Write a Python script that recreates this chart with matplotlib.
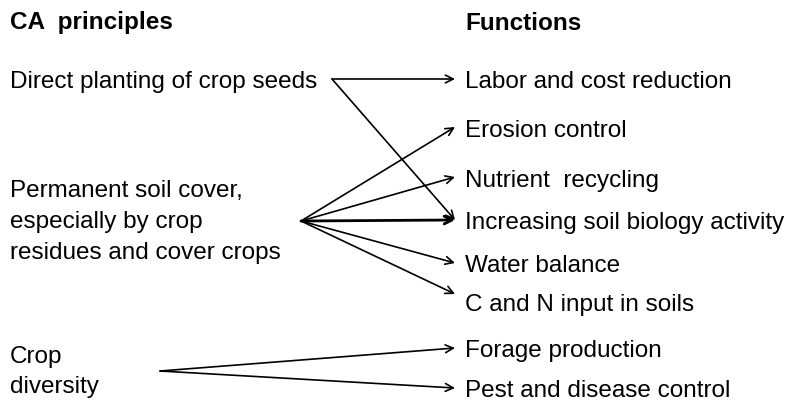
import matplotlib
matplotlib.use("Agg")
import matplotlib.pyplot as plt

# diagram content
principles = ["Direct planting of crop seeds",
              "Permanent soil cover,\nespecially by crop\nresidues and cover crops",
              "Crop\ndiversity"]
functions = ["Labor and cost reduction", "Erosion control", "Nutrient  recycling",
             "Increasing soil biology activity", "Water balance",
             "C and N input in soils", "Forage production", "Pest and disease control"]
# (principle index, function index)
links = [(0, 0), (0, 3),
         (1, 1), (1, 2), (1, 3), (1, 4), (1, 5),
         (2, 6), (2, 7)]

# layout in pixels
principle_text_y = [82, 222, 372]
principle_spacing = [1.3, 1.55, 1.45]
principle_src = [(332, 80), (301, 222), (160, 372)]
function_y = [82, 131, 181, 223, 266, 305, 351, 391]
func_x = 465
tip_x = 455
tip_dy = {0: -2, 1: -3, 2: -3, 3: -2, 4: -2, 5: -10, 6: -2, 7: -2}

plt.rcParams['font.family'] = ['Liberation Sans', 'DejaVu Sans']
fig = plt.figure(figsize=(7.91, 4.02), dpi=100)
ax = fig.add_axes([0, 0, 1, 1])
ax.set_xlim(0, 791)
ax.set_ylim(402, 0)
ax.axis('off')

fs = 17.5
ax.text(10, 23, "CA  principles", fontsize=fs, fontweight='bold', va='center', ha='left')
ax.text(func_x, 23, "Functions", fontsize=fs, fontweight='bold', va='center', ha='left')

for txt, y, ls in zip(principles, principle_text_y, principle_spacing):
    ax.text(10, y, txt, fontsize=fs, va='center', ha='left', linespacing=ls)

for txt, y in zip(functions, function_y):
    ax.text(func_x, y, txt, fontsize=fs, va='center', ha='left')

for p, f in links:
    sx, sy = principle_src[p]
    ty = function_y[f] + tip_dy.get(f, 0)
    lw = 2.0 if (p == 1 and f == 3) else 1.2
    ax.annotate("", xy=(tip_x, ty), xytext=(sx, sy),
                arrowprops=dict(arrowstyle="->", color='black', lw=lw,
                                shrinkA=0, shrinkB=0, mutation_scale=14))

fig.savefig("out.png", dpi=100, facecolor='white')
